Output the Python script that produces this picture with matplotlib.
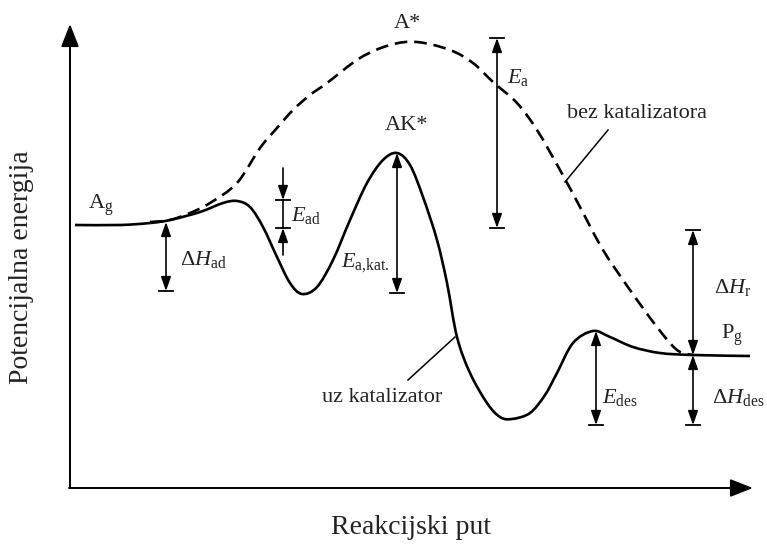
import matplotlib
matplotlib.use("Agg")
import matplotlib.pyplot as plt
from matplotlib.path import Path
from matplotlib.patches import PathPatch

plt.rcParams['font.family'] = ['Liberation Serif', 'DejaVu Serif']
plt.rcParams['mathtext.fontset'] = 'custom'
plt.rcParams['mathtext.rm'] = 'Liberation Serif'
plt.rcParams['mathtext.it'] = 'Liberation Serif:italic'

# curve (x = reaction path, y = screen position, down = lower energy)
cat_x = [75, 120, 150, 170, 200, 223, 237, 250, 263, 277, 290, 302, 317, 333, 350,
         367, 383, 397, 410, 423, 437, 447, 457, 470, 487, 500, 512, 530, 545, 557,
         573, 593, 610, 633, 660, 693, 750]
cat_y = [225, 225, 223, 220, 212, 203, 201, 207, 227, 257, 283, 294, 287, 260, 220,
         183, 160, 153, 165, 197, 240, 283, 337, 373, 403, 417, 419, 413, 395, 373,
         343, 331, 337, 347, 353, 355, 356]

nocat_x = [150, 170, 190, 210, 237, 260, 277, 293, 310, 327, 360, 390, 417, 450, 473,
           493, 517, 537, 560, 580, 603, 630, 657, 677, 693]
nocat_y = [222, 220, 213, 203, 183, 148, 128, 110, 95, 83, 58, 45, 42, 50, 63,
           82, 103, 130, 170, 207, 250, 290, 327, 350, 355]

# dimension arrows: x, top, bottom, bar at top, bar at bottom
dims = [
    (497, 38, 228, True, True),     # E_a
    (397, 153, 293, False, True),   # E_a,kat.
    (166, 222, 291, False, True),   # dH_ad
    (693, 230, 355, True, False),   # dH_r
    (693, 355, 425, False, True),   # dH_des
    (596, 331, 425, False, True),   # E_des
]
ead_x, ead_top, ead_bot = 283, 200, 228

labels = [
    (101, 205, r'$\mathrm{A}_\mathrm{g}$', 'center'),
    (407, 24, 'A*', 'center'),
    (406, 126, 'AK*', 'center'),
    (507, 78, r'$E_\mathrm{a}$', 'left'),
    (567, 113, 'bez katalizatora', 'left'),
    (291, 216, r'$E_\mathrm{ad}$', 'left'),
    (180, 260, r'$\Delta H_\mathrm{ad}$', 'left'),
    (341, 263, r'$E_\mathrm{a{,}kat.}$', 'left'),
    (322, 397, 'uz katalizator', 'left'),
    (602, 397, r'$E_\mathrm{des}$', 'left'),
    (712, 398, r'$\Delta H_\mathrm{des}$', 'left'),
    (714, 288, r'$\Delta H_\mathrm{r}$', 'left'),
    (721, 335, r'$\mathrm{P}_\mathrm{g}$', 'left'),
]


def smooth_path(xs, ys):
    """Cubic Bezier path through the given points (Catmull-Rom tangents)."""
    pts = list(zip(xs, ys))
    verts = [pts[0]]
    codes = [Path.MOVETO]
    n = len(pts)
    for i in range(n - 1):
        p0 = pts[i - 1] if i > 0 else pts[i]
        p1, p2 = pts[i], pts[i + 1]
        p3 = pts[i + 2] if i + 2 < n else pts[i + 1]
        c1 = (p1[0] + (p2[0] - p0[0]) / 6, p1[1] + (p2[1] - p0[1]) / 6)
        c2 = (p2[0] - (p3[0] - p1[0]) / 6, p2[1] - (p3[1] - p1[1]) / 6)
        verts += [c1, c2, p2]
        codes += [Path.CURVE4] * 3
    return Path(verts, codes)


fig = plt.figure(figsize=(7.67, 5.46), dpi=100)
ax = fig.add_axes([0, 0, 1, 1])
ax.set_xlim(0, 767)
ax.set_ylim(546, 0)
ax.axis('off')

# axes with arrow heads
ax_arrow = dict(arrowstyle='-|>,head_length=1.4,head_width=0.55', lw=1.4, color='k',
                shrinkA=0, shrinkB=0, mutation_scale=10)
ax.annotate('', xy=(70, 24), xytext=(70, 488), arrowprops=ax_arrow)
ax.annotate('', xy=(753, 488), xytext=(69, 488), arrowprops=ax_arrow)

ax.add_patch(PathPatch(smooth_path(nocat_x, nocat_y), fill=False, ec='k', lw=1.9,
                       ls=(0, (4.8, 2.6))))
ax.add_patch(PathPatch(smooth_path(cat_x, cat_y), fill=False, ec='k', lw=1.9,
                       joinstyle='round', capstyle='butt'))

dim_style = dict(arrowstyle='<|-|>,head_length=0.85,head_width=0.3', lw=1.2, color='k',
                 shrinkA=0, shrinkB=0, mutation_scale=10)
for x, top, bot, bar_top, bar_bot in dims:
    ax.annotate('', xy=(x, top), xytext=(x, bot), arrowprops=dim_style)
    if bar_top:
        ax.plot([x - 7, x + 7], [top, top], color='k', lw=1.3)
    if bar_bot:
        ax.plot([x - 7, x + 7], [bot, bot], color='k', lw=1.3)

# E_ad: two inward arrows between bars
one_head = dict(dim_style, arrowstyle='-|>,head_length=0.85,head_width=0.3')
ax.annotate('', xy=(ead_x, ead_top), xytext=(ead_x, ead_top - 32), arrowprops=one_head)
ax.annotate('', xy=(ead_x, ead_bot), xytext=(ead_x, ead_bot + 27), arrowprops=one_head)
ax.plot([ead_x, ead_x], [ead_top, ead_bot], color='k', lw=1.2)
ax.plot([ead_x - 7, ead_x + 7], [ead_top, ead_top], color='k', lw=1.3)
ax.plot([ead_x - 7, ead_x + 7], [ead_bot, ead_bot], color='k', lw=1.3)

# leader lines
ax.plot([565, 608], [182, 130], color='k', lw=1.1)
ax.plot([455, 408], [337, 380], color='k', lw=1.1)

for x, y, s, ha in labels:
    ax.text(x, y, s, fontsize=16, ha=ha, va='center', color='#222222')

ax.text(411, 528, 'Reakcijski put', fontsize=20, ha='center', va='center', color='#222222')
ax.text(22, 267, 'Potencijalna energija', fontsize=20, ha='center', va='center',
        rotation=90, color='#222222')

fig.savefig('out.png', dpi=100)
